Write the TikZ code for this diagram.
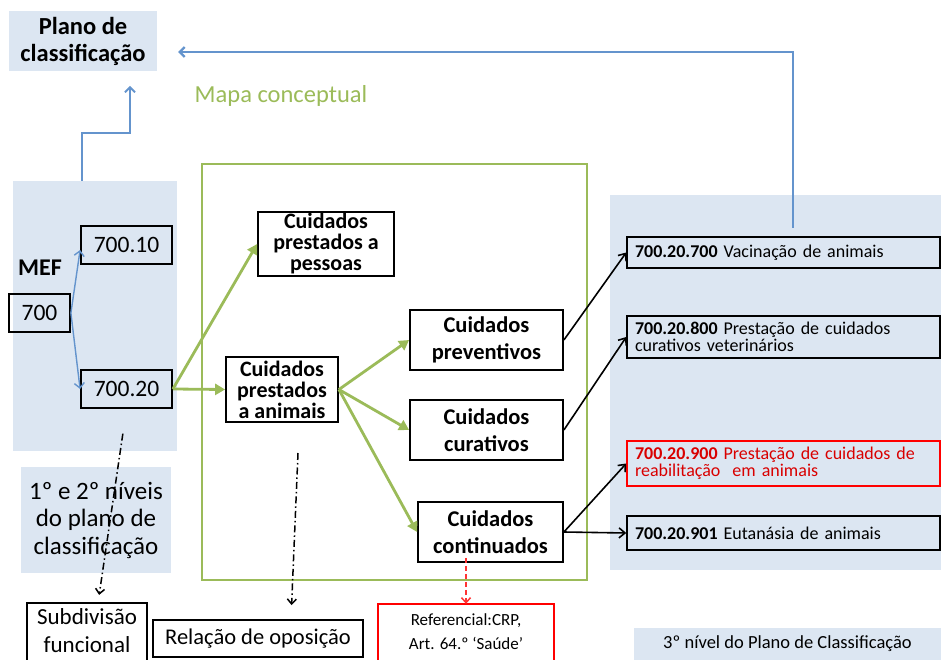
\documentclass[tikz,border=0pt]{standalone}
\usepackage{fontspec}
\setmainfont{Carlito}
\usetikzlibrary{arrows.meta, positioning}

\definecolor{panelblue}{RGB}{220,230,242}
\definecolor{mapgreen}{RGB}{155,187,89}
\definecolor{linkblue}{RGB}{100,148,205}

\begin{document}
\begin{tikzpicture}[
		x=1pt, y=-1pt,
		panel/.style={fill=panelblue, inner sep=0pt, align=center},
		catbox/.style={draw, line width=1.8pt, align=center, inner sep=0pt, font=\fontsize{22}{21}\selectfont\bfseries},
		codebox/.style={draw, line width=1.8pt, inner sep=0pt, align=center, font=\fontsize{23.5}{27}\selectfont},
		levelbox/.style={draw, line width=1.5pt, minimum width=313pt, text width=297pt, inner xsep=8pt, inner ysep=0pt, align=left, font=\fontsize{18}{17}\selectfont},
		notebox/.style={minimum width=#1, align=center, inner sep=0pt},
		blueline/.style={->, >={Straight Barb[length=5pt,width=10pt]}, linkblue, line width=1.8pt},
		greenline/.style={->, >={Triangle[length=10pt,width=11pt]}, mapgreen, line width=2.8pt},
		blackline/.style={->, >={Straight Barb[length=6pt,width=10pt]}, line width=1.6pt},
		dotline/.style={->, >={Straight Barb[length=5pt,width=9pt]}, dash pattern=on 7pt off 3pt on 1.5pt off 3pt, line width=1.5pt}
		]
		
		\useasboundingbox (0,0) rectangle (941,660);
		
		% Draw the background panels and the frame of the concept map
		\fill[panelblue] (13,181) rectangle (177,451);
		\fill[panelblue] (610,195) rectangle (941,570);
		\draw[mapgreen, line width=1.8pt] (202,164) rectangle (587,580);
		
		\node[panel, minimum width=148pt, minimum height=60pt, font=\fontsize{24.5}{27}\selectfont\bfseries] (plano) at (83,41) {Plano de\\classificação};
		\node[text=mapgreen, font=\fontsize{24.5}{28}\selectfont] (mapa) at (281,96) {Mapa conceptual};
		\node[panel, minimum width=150pt, minimum height=106pt, font=\fontsize{25}{27.5}\selectfont] (niveis) at (96,520) {1º e 2º níveis\\do plano de\\classificação};
		\node[panel, minimum width=307pt, minimum height=32pt, font=\fontsize{18.5}{20}\selectfont] (nivel3) at (787.5,644) {3º nível do Plano de Classificação};
		
		% MEF codes
		\node[font=\fontsize{24}{27}\selectfont\bfseries] (mef) at (40,268) {MEF};
		\node[codebox, minimum width=61pt, minimum height=38pt] (n700) at (39.5,313) {700};
		\node[codebox, minimum width=91pt, minimum height=38pt] (n70010) at (126.5,245) {700.10};
		\node[codebox, minimum width=91pt, minimum height=38pt] (n70020) at (126.5,389) {700.20};
		
		% Concept map
		\node[catbox, minimum width=136pt, minimum height=64pt] (pessoas) at (326,244) {Cuidados\\prestados a\\pessoas};
		\node[catbox, minimum width=112pt, minimum height=65pt] (animais) at (282,389.5) {Cuidados\\prestados\\a animais};
		\node[catbox, minimum width=153pt, minimum height=60pt, font=\fontsize{22.5}{27}\selectfont\bfseries] (preventivos) at (486.5,340) {Cuidados\\preventivos};
		\node[catbox, minimum width=153pt, minimum height=60pt, font=\fontsize{22.5}{27}\selectfont\bfseries] (curativos) at (486.5,430) {Cuidados\\curativos};
		\node[catbox, minimum width=145pt, minimum height=60pt, font=\fontsize{22.5}{27}\selectfont\bfseries] (continuados) at (490.5,532) {Cuidados\\continuados};
		
		% Third level of the classification plan
		\node[levelbox, minimum height=31pt] (r700) at (783.5,252.5) {\textbf{700.20.700} Vacinação de animais};
		\node[levelbox, minimum height=42pt] (r800) at (783.5,337) {\textbf{700.20.800} Prestação de cuidados\\curativos veterinários};
		\node[levelbox, draw=red, text=red!85!black, minimum height=45pt] (r900) at (783.5,463.5) {\textbf{700.20.900} Prestação de cuidados de\\reabilitação\ \ em animais};
		\node[levelbox, minimum height=34pt] (r901) at (783.5,533) {\textbf{700.20.901} Eutanásia de animais};
		
		% Bottom notes (their lower edges run off the page)
		\node[notebox=120pt, minimum height=56pt, font=\fontsize{23}{28}\selectfont] (subdiv) at (87,631) {Subdivisão\\funcional};
		\draw[line width=1.8pt] ([yshift=-8pt]subdiv.south west) |- (subdiv.north east) -- ++(0,64);
		\node[draw, line width=1.8pt, minimum width=210pt, minimum height=37pt, inner sep=0pt, font=\fontsize{22.5}{25}\selectfont] (oposicao) at (258,638.5) {Relação de oposição};
		\node[notebox=176pt, minimum height=56pt, font=\fontsize{17}{24}\selectfont] (referencial) at (466,632) {Referencial:CRP,\\Art. 64.º ‘Saúde’};
		\draw[red, line width=1.8pt] ([yshift=-8pt]referencial.south west) |- (referencial.north east) -- ++(0,64);
		
		% Connectors
		\coordinate (mefTop) at (82,181);
		\coordinate (planoIn) at (130,86);
		\coordinate (vacTop) at (793,228);
		\coordinate (planoBack) at (178,52);
		\coordinate (oppTop) at (298,453);
		\draw[blueline] (mefTop) -- ++(0,-48) -| (planoIn);
		\draw[blueline, line width=2.4pt] (vacTop) |- (planoBack);
		
		\draw[blueline, line width=1.4pt] (n700.east) -- ([yshift=-5pt]n70010.west);
		\draw[blueline, line width=1.4pt] (n700.east) -- (n70020.west);
		
		\draw[greenline] (n70020.east) -- (animais.west);
		\draw[greenline] (n70020.east) -- (pessoas.west);
		\foreach \target in {preventivos, curativos, continuados}
			\draw[greenline] (animais.east) -- (\target.west);
		
		\draw[blackline] (preventivos.east) -- (r700.west);
		\draw[blackline] (curativos.east) -- (r800.west);
		\draw[blackline] (continuados.east) -- (r900.west);
		\draw[blackline] (continuados.east) -- (r901.west);
		
		\draw[dotline, shorten <=25pt, shorten >=8pt] (n70020.south) -- ([xshift=11pt]subdiv.north);
		\draw[dotline, shorten >=14pt] (oppTop) -- ([xshift=33pt]oposicao.north);
		\draw[->, >={Straight Barb[length=5pt,width=9pt]}, red!80, dash pattern=on 5pt off 3pt, line width=1.5pt, shorten <=-5pt] (continuados.south -| referencial.north) -- (referencial.north);
		
	\end{tikzpicture}
\end{document}
